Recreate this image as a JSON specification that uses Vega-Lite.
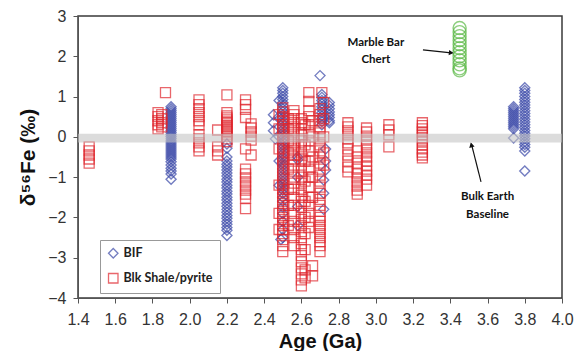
{
 "$schema": "https://vega.github.io/schema/vega-lite/v6.json",
 "width": 484, "height": 282,
 "autosize": {"type": "none"},
 "padding": {"left": 78, "top": 16, "right": 20, "bottom": 53},
 "background": "white",
 "config": {"view": {"stroke": "#3a3a3a", "strokeWidth": 1.5}, "font": "Liberation Sans", "axis": {"labelOverlap": false, "labelFlush": false}},
 "datasets": {
  "bif": [
   {"a":1.9,"v":0.75},{"a":1.9,"v":0.7},{"a":1.9,"v":0.65},{"a":1.9,"v":0.6},{"a":1.9,"v":0.55},{"a":1.9,"v":0.5},{"a":1.9,"v":0.45},{"a":1.9,"v":0.4},{"a":1.9,"v":0.35},{"a":1.9,"v":0.3},{"a":1.9,"v":0.25},{"a":1.9,"v":0.2},{"a":1.9,"v":0.15},{"a":1.9,"v":0.1},{"a":1.9,"v":0.05},{"a":1.9,"v":0},{"a":1.9,"v":-0.05},{"a":1.9,"v":-0.1},{"a":1.9,"v":-0.15},{"a":1.9,"v":-0.2},{"a":1.9,"v":-0.25},{"a":1.9,"v":-0.3},{"a":1.9,"v":-0.35},{"a":1.9,"v":-0.4},{"a":1.9,"v":-0.45},{"a":1.9,"v":-0.5},{"a":1.9,"v":-0.55},{"a":1.9,"v":-0.62},{"a":1.9,"v":-0.7},{"a":1.9,"v":-0.78},{"a":1.9,"v":-0.85},{"a":1.9,"v":-0.92},{"a":1.9,"v":-1.05},
   {"a":2.2,"v":-0.18},{"a":2.2,"v":-0.28},{"a":2.2,"v":-0.5},{"a":2.2,"v":-0.6},{"a":2.2,"v":-0.68},{"a":2.2,"v":-0.75},{"a":2.2,"v":-0.82},{"a":2.2,"v":-0.9},{"a":2.2,"v":-0.97},{"a":2.2,"v":-1.05},{"a":2.2,"v":-1.12},{"a":2.2,"v":-1.2},{"a":2.2,"v":-1.27},{"a":2.2,"v":-1.35},{"a":2.2,"v":-1.42},{"a":2.2,"v":-1.5},{"a":2.2,"v":-1.57},{"a":2.2,"v":-1.65},{"a":2.2,"v":-1.72},{"a":2.2,"v":-1.8},{"a":2.2,"v":-1.87},{"a":2.2,"v":-1.95},{"a":2.2,"v":-2.02},{"a":2.2,"v":-2.1},{"a":2.2,"v":-2.17},{"a":2.2,"v":-2.25},{"a":2.2,"v":-2.32},{"a":2.2,"v":-2.45},
   {"a":2.45,"v":0.55},{"a":2.45,"v":0.35},{"a":2.45,"v":0.15},{"a":2.46,"v":-0.05},
   {"a":2.48,"v":0.9},{"a":2.48,"v":0.5},{"a":2.48,"v":0.0},{"a":2.48,"v":-0.6},{"a":2.48,"v":-1.2},{"a":2.49,"v":-2.55},
   {"a":2.5,"v":1.22},{"a":2.5,"v":1.15},{"a":2.5,"v":1.08},{"a":2.5,"v":1.0},{"a":2.5,"v":0.93},{"a":2.5,"v":0.85},{"a":2.5,"v":0.78},{"a":2.5,"v":0.7},{"a":2.5,"v":0.63},{"a":2.5,"v":0.55},{"a":2.5,"v":0.48},{"a":2.5,"v":0.4},{"a":2.5,"v":0.33},{"a":2.5,"v":0.25},{"a":2.5,"v":0.18},{"a":2.5,"v":0.1},{"a":2.5,"v":0.03},{"a":2.5,"v":-0.05},{"a":2.5,"v":-0.12},{"a":2.5,"v":-0.2},{"a":2.5,"v":-0.27},{"a":2.5,"v":-0.35},{"a":2.5,"v":-0.42},{"a":2.5,"v":-0.5},{"a":2.5,"v":-0.57},{"a":2.5,"v":-0.65},{"a":2.5,"v":-0.72},{"a":2.5,"v":-0.8},{"a":2.5,"v":-0.87},{"a":2.5,"v":-0.95},{"a":2.5,"v":-1.02},{"a":2.5,"v":-1.1},{"a":2.5,"v":-1.17},{"a":2.5,"v":-1.25},{"a":2.5,"v":-1.32},{"a":2.5,"v":-1.4},{"a":2.5,"v":-1.5},{"a":2.5,"v":-1.6},{"a":2.5,"v":-1.75},{"a":2.5,"v":-1.9},{"a":2.5,"v":-2.1},{"a":2.5,"v":-2.3},{"a":2.5,"v":-2.5},
   {"a":2.58,"v":-0.5},{"a":2.58,"v":-0.57},{"a":2.58,"v":-1.0},{"a":2.58,"v":-1.73},{"a":2.58,"v":-2.2},
   {"a":2.7,"v":1.52},
   {"a":2.71,"v":1.05},{"a":2.71,"v":0.98},{"a":2.71,"v":0.9},{"a":2.71,"v":0.83},{"a":2.71,"v":0.75},{"a":2.71,"v":0.68},{"a":2.71,"v":0.6},{"a":2.71,"v":0.52},{"a":2.71,"v":0.45},{"a":2.71,"v":0.38},{"a":2.71,"v":0.3},
   {"a":2.75,"v":0.85},{"a":2.75,"v":0.78},{"a":2.75,"v":0.7},{"a":2.75,"v":0.62},{"a":2.75,"v":0.55},{"a":2.75,"v":0.48},{"a":2.75,"v":0.4},{"a":2.75,"v":0.35},
   {"a":2.73,"v":-0.3},{"a":2.73,"v":-0.6},{"a":2.73,"v":-0.82},{"a":2.72,"v":-1.07},{"a":2.72,"v":-1.4},{"a":2.72,"v":-1.8},
   {"a":3.74,"v":0.75},{"a":3.74,"v":0.7},{"a":3.74,"v":0.65},{"a":3.74,"v":0.6},{"a":3.74,"v":0.55},{"a":3.74,"v":0.5},{"a":3.74,"v":0.45},{"a":3.74,"v":0.4},{"a":3.74,"v":0.35},{"a":3.74,"v":0.3},{"a":3.74,"v":0.25},{"a":3.74,"v":0.2},{"a":3.74,"v":-0.03},
   {"a":3.8,"v":1.22},{"a":3.8,"v":1.15},{"a":3.8,"v":1.08},{"a":3.8,"v":1.0},{"a":3.8,"v":0.93},{"a":3.8,"v":0.86},{"a":3.8,"v":0.79},{"a":3.8,"v":0.72},{"a":3.8,"v":0.65},{"a":3.8,"v":0.58},{"a":3.8,"v":0.51},{"a":3.8,"v":0.44},{"a":3.8,"v":0.37},{"a":3.8,"v":0.3},{"a":3.8,"v":0.23},{"a":3.8,"v":0.16},{"a":3.8,"v":0.09},{"a":3.8,"v":0.02},{"a":3.8,"v":-0.05},{"a":3.8,"v":-0.12},{"a":3.8,"v":-0.19},{"a":3.8,"v":-0.26},{"a":3.8,"v":-0.35},{"a":3.8,"v":-0.85}
  ],
  "shale": [
   {"a":1.46,"v":-0.25},{"a":1.46,"v":-0.35},{"a":1.46,"v":-0.45},{"a":1.46,"v":-0.55},{"a":1.46,"v":-0.65},
   {"a":1.83,"v":0.6},{"a":1.83,"v":0.5},{"a":1.83,"v":0.4},{"a":1.83,"v":0.3},{"a":1.83,"v":0.2},
   {"a":1.85,"v":0.55},{"a":1.85,"v":0.45},{"a":1.85,"v":0.35},{"a":1.85,"v":0.25},{"a":1.87,"v":1.1},
   {"a":2.05,"v":0.92},{"a":2.05,"v":0.8},{"a":2.05,"v":0.7},{"a":2.05,"v":0.6},{"a":2.05,"v":0.5},{"a":2.05,"v":0.4},{"a":2.05,"v":0.3},{"a":2.05,"v":0.05},{"a":2.05,"v":-0.05},{"a":2.05,"v":-0.15},{"a":2.05,"v":-0.25},{"a":2.05,"v":-0.35},
   {"a":2.15,"v":0.17},{"a":2.15,"v":-0.25},{"a":2.15,"v":-0.35},{"a":2.15,"v":-0.45},
   {"a":2.2,"v":1.04},{"a":2.2,"v":0.6},{"a":2.2,"v":0.52},{"a":2.2,"v":0.47},{"a":2.2,"v":0.42},{"a":2.2,"v":0.37},{"a":2.2,"v":0.32},{"a":2.2,"v":0.27},{"a":2.2,"v":0.22},{"a":2.2,"v":0.17},{"a":2.2,"v":0.12},{"a":2.2,"v":0.07},{"a":2.2,"v":0.02},{"a":2.2,"v":-0.05},{"a":2.2,"v":-0.12},
   {"a":2.3,"v":0.92},{"a":2.3,"v":0.8},{"a":2.3,"v":0.68},{"a":2.3,"v":0.48},{"a":2.3,"v":-0.3},{"a":2.3,"v":-0.8},{"a":2.3,"v":-0.92},{"a":2.3,"v":-1.02},{"a":2.3,"v":-1.12},{"a":2.3,"v":-1.22},{"a":2.3,"v":-1.32},{"a":2.3,"v":-1.42},{"a":2.3,"v":-1.52},{"a":2.3,"v":-1.78},
   {"a":2.33,"v":0.32},{"a":2.33,"v":0.22},{"a":2.33,"v":0.12},{"a":2.33,"v":0.02},{"a":2.33,"v":-0.08},{"a":2.33,"v":-0.45},
   {"a":2.48,"v":0.55},{"a":2.48,"v":0.2},{"a":2.48,"v":-0.3},{"a":2.48,"v":-1.2},{"a":2.48,"v":-1.9},{"a":2.48,"v":-2.3},
   {"a":2.5,"v":0.72},{"a":2.5,"v":0.62},{"a":2.5,"v":0.5},{"a":2.5,"v":0.4},{"a":2.5,"v":0.3},{"a":2.5,"v":0.2},{"a":2.5,"v":0.1},{"a":2.5,"v":0},{"a":2.5,"v":-0.1},{"a":2.5,"v":-0.2},{"a":2.5,"v":-0.3},{"a":2.5,"v":-0.4},{"a":2.5,"v":-0.5},{"a":2.5,"v":-0.6},{"a":2.5,"v":-0.7},{"a":2.5,"v":-0.8},{"a":2.5,"v":-0.9},{"a":2.5,"v":-1.0},{"a":2.5,"v":-1.1},{"a":2.5,"v":-1.2},{"a":2.5,"v":-1.3},{"a":2.5,"v":-1.4},{"a":2.5,"v":-1.5},{"a":2.5,"v":-1.6},{"a":2.5,"v":-1.7},{"a":2.5,"v":-1.8},{"a":2.5,"v":-1.9},{"a":2.5,"v":-2.0},{"a":2.5,"v":-2.1},{"a":2.5,"v":-2.2},{"a":2.5,"v":-2.3},{"a":2.5,"v":-2.4},{"a":2.5,"v":-2.55},{"a":2.5,"v":-2.7},{"a":2.5,"v":-2.85},
   {"a":2.53,"v":0.45},{"a":2.53,"v":0.2},{"a":2.53,"v":-0.1},{"a":2.53,"v":-0.4},{"a":2.53,"v":-0.8},{"a":2.53,"v":-1.3},{"a":2.53,"v":-1.7},{"a":2.53,"v":-2.2},
   {"a":2.56,"v":0.65},{"a":2.56,"v":0.55},{"a":2.56,"v":0.45},{"a":2.56,"v":0.35},{"a":2.56,"v":0.25},{"a":2.56,"v":0.15},{"a":2.56,"v":0.05},{"a":2.56,"v":-0.05},{"a":2.56,"v":-0.15},{"a":2.56,"v":-0.25},{"a":2.56,"v":-0.35},{"a":2.56,"v":-0.45},{"a":2.56,"v":-0.55},{"a":2.56,"v":-0.7},{"a":2.56,"v":-0.85},{"a":2.56,"v":-1.0},{"a":2.56,"v":-1.15},{"a":2.56,"v":-1.3},{"a":2.56,"v":-1.5},{"a":2.56,"v":-1.7},{"a":2.56,"v":-1.9},{"a":2.56,"v":-2.1},{"a":2.56,"v":-2.3},{"a":2.56,"v":-2.5},{"a":2.56,"v":-2.7},
   {"a":2.6,"v":0.45},{"a":2.6,"v":0.35},{"a":2.6,"v":0.2},{"a":2.6,"v":0.05},{"a":2.6,"v":-0.1},{"a":2.6,"v":-0.25},{"a":2.6,"v":-0.4},{"a":2.6,"v":-0.55},{"a":2.6,"v":-0.7},{"a":2.6,"v":-0.85},{"a":2.6,"v":-1.0},{"a":2.6,"v":-1.15},{"a":2.6,"v":-1.3},{"a":2.6,"v":-1.45},{"a":2.6,"v":-1.6},{"a":2.6,"v":-1.75},{"a":2.6,"v":-1.9},{"a":2.6,"v":-2.05},{"a":2.6,"v":-2.2},{"a":2.6,"v":-2.35},{"a":2.6,"v":-2.5},{"a":2.6,"v":-2.65},{"a":2.6,"v":-2.8},{"a":2.6,"v":-2.95},{"a":2.6,"v":-3.1},{"a":2.6,"v":-3.25},{"a":2.6,"v":-3.4},{"a":2.6,"v":-3.55},{"a":2.6,"v":-3.7},
   {"a":2.62,"v":0.3},{"a":2.62,"v":-0.2},{"a":2.62,"v":-0.6},{"a":2.62,"v":-1.1},{"a":2.62,"v":-1.6},{"a":2.62,"v":-2.0},{"a":2.62,"v":-2.4},{"a":2.62,"v":-2.8},{"a":2.62,"v":-3.3},{"a":2.62,"v":-3.5},
   {"a":2.64,"v":1.1},{"a":2.64,"v":0.88},{"a":2.64,"v":0.65},{"a":2.64,"v":0.5},{"a":2.64,"v":0.3},{"a":2.64,"v":0.1},{"a":2.64,"v":-0.1},{"a":2.64,"v":-0.35},{"a":2.64,"v":-0.6},{"a":2.64,"v":-0.8},{"a":2.64,"v":-1.0},{"a":2.64,"v":-1.25},{"a":2.64,"v":-1.5},{"a":2.64,"v":-1.7},{"a":2.64,"v":-1.9},{"a":2.64,"v":-2.1},{"a":2.64,"v":-2.25},
   {"a":2.66,"v":0.4},{"a":2.66,"v":0.0},{"a":2.66,"v":-0.5},{"a":2.66,"v":-1.0},{"a":2.66,"v":-1.5},{"a":2.66,"v":-3.2},{"a":2.66,"v":-3.45},
   {"a":2.71,"v":1.1},
   {"a":2.7,"v":0.7},{"a":2.7,"v":0.55},{"a":2.7,"v":0.4},{"a":2.7,"v":0.25},{"a":2.7,"v":0.1},{"a":2.7,"v":-0.05},{"a":2.7,"v":-0.2},{"a":2.7,"v":-0.35},{"a":2.7,"v":-0.5},{"a":2.7,"v":-0.65},{"a":2.7,"v":-0.8},{"a":2.7,"v":-0.95},{"a":2.7,"v":-1.1},{"a":2.7,"v":-1.25},{"a":2.7,"v":-1.4},{"a":2.7,"v":-1.55},{"a":2.7,"v":-1.7},{"a":2.7,"v":-1.85},{"a":2.7,"v":-2.0},{"a":2.7,"v":-2.1},{"a":2.7,"v":-2.2},{"a":2.7,"v":-2.3},{"a":2.7,"v":-2.4},{"a":2.7,"v":-2.5},{"a":2.7,"v":-2.6},{"a":2.7,"v":-2.7},{"a":2.7,"v":-2.85},
   {"a":2.72,"v":0.85},{"a":2.72,"v":0.45},{"a":2.72,"v":0.0},{"a":2.72,"v":-0.4},{"a":2.72,"v":-0.7},
   {"a":2.85,"v":0.35},{"a":2.85,"v":0.25},{"a":2.85,"v":0.15},{"a":2.85,"v":0.05},{"a":2.85,"v":-0.05},{"a":2.85,"v":-0.15},{"a":2.85,"v":-0.3},{"a":2.85,"v":-0.45},{"a":2.85,"v":-0.6},{"a":2.85,"v":-0.75},{"a":2.85,"v":-0.87},
   {"a":2.9,"v":-0.35},{"a":2.9,"v":-0.5},{"a":2.9,"v":-0.65},{"a":2.9,"v":-0.8},{"a":2.9,"v":-0.92},{"a":2.9,"v":-1.02},{"a":2.9,"v":-1.12},{"a":2.9,"v":-1.22},{"a":2.9,"v":-1.32},{"a":2.9,"v":-1.42},
   {"a":2.95,"v":0.22},{"a":2.95,"v":0.12},{"a":2.95,"v":0.02},{"a":2.95,"v":-0.08},{"a":2.95,"v":-0.2},{"a":2.95,"v":-0.3},{"a":2.95,"v":-0.4},{"a":2.95,"v":-0.5},{"a":2.95,"v":-0.6},{"a":2.95,"v":-0.72},{"a":2.95,"v":-0.85},{"a":2.95,"v":-0.95},{"a":2.95,"v":-1.05},{"a":2.95,"v":-1.2},
   {"a":3.07,"v":0.3},{"a":3.07,"v":0.17},{"a":3.07,"v":0.05},{"a":3.07,"v":-0.25},
   {"a":3.25,"v":0.35},{"a":3.25,"v":0.28},{"a":3.25,"v":0.2},{"a":3.25,"v":0.12},{"a":3.25,"v":0.05},{"a":3.25,"v":-0.02},{"a":3.25,"v":-0.1},{"a":3.25,"v":-0.2},{"a":3.25,"v":-0.3},{"a":3.25,"v":-0.38},{"a":3.25,"v":-0.45},{"a":3.25,"v":-0.52}
  ],
  "chert": [
   {"a":3.45,"v":2.7},{"a":3.45,"v":2.6},{"a":3.45,"v":2.5},{"a":3.45,"v":2.4},{"a":3.45,"v":2.3},{"a":3.45,"v":2.2},{"a":3.45,"v":2.1},{"a":3.45,"v":2.0},{"a":3.45,"v":1.9},{"a":3.45,"v":1.8},{"a":3.45,"v":1.7},{"a":3.45,"v":1.65}
  ],
  "band": [{"a": 1.4, "a2": 4.0, "v": -0.14, "v2": 0.08}],
  "labels": [
   {"a":3.0,"v":2.33,"t":"Marble Bar"},{"a":3.0,"v":1.91,"t":"Chert"},
   {"a":3.6,"v":-1.49,"t":"Bulk Earth"},{"a":3.6,"v":-1.94,"t":"Baseline"}
  ],
  "arrows": [
   {"a":3.253,"v":2.16,"a2":3.405,"v2":2.085},
   {"a":3.565,"v":-1.12,"a2":3.513,"v2":-0.17}
  ]
 },
 "encoding": {
  "x": {"field": "a", "type": "quantitative",
   "scale": {"domain": [1.4, 4.0], "nice": false, "zero": false},
   "axis": {"tickCount": 13, "format": ".1f", "grid": false, "labelOverlap": false, "labelBound": false,
    "title": "Age (Ga)", "titleFont": "Liberation Sans", "titleFontSize": 20, "titleFontWeight": "bold", "titleColor": "#111",
    "labelFontSize": 16, "labelColor": "#333", "labelFont": "Liberation Sans", "tickSize": 5, "tickColor": "#555", "domainColor": "#555",
    "labelPadding": 8, "titlePadding": 4}},
  "y": {"field": "v", "type": "quantitative",
   "scale": {"domain": [-4, 3], "nice": false, "zero": false},
   "axis": {"values": [-4,-3,-2,-1,0,1,2,3], "grid": false, "labelOverlap": false,
    "title": "δ⁵⁶Fe (‰)", "titleFont": "Liberation Sans", "titleFontSize": 21, "titleFontWeight": "bold", "titleColor": "#111",
    "labelFontSize": 16, "labelColor": "#333", "labelFont": "Liberation Sans", "tickSize": 5, "tickColor": "#555", "domainColor": "#555",
    "labelPadding": 7, "titlePadding": 9}}
 },
 "layer": [
  {
   "data": {"name": "bif"},
   "mark": {"type": "point", "filled": false, "strokeWidth": 1.4, "size": 100},
   "encoding": {
    "color": {"datum": "BIF", "type": "nominal",
     "scale": {"domain": ["BIF", "Blk Shale/pyrite"], "range": ["#3a48a8", "#e0262d"]},
     "legend": {"orient": "none", "legendX": 22, "legendY": 224, "title": null, "strokeColor": "#999", "fillColor": "white",
      "padding": 7, "labelFont": "Lato", "labelFontWeight": "bold", "labelFontSize": 12.5, "labelColor": "#222",
      "symbolSize": 90, "symbolStrokeWidth": 1.3, "rowPadding": 9, "labelOffset": 4}},
    "shape": {"datum": "BIF", "type": "nominal",
     "scale": {"domain": ["BIF", "Blk Shale/pyrite"], "range": ["diamond", "square"]}}
   }
  },
  {
   "data": {"name": "shale"},
   "mark": {"type": "point", "filled": false, "strokeWidth": 1.3, "size": 100},
   "encoding": {
    "color": {"datum": "Blk Shale/pyrite", "type": "nominal"},
    "shape": {"datum": "Blk Shale/pyrite", "type": "nominal"}
   }
  },
  {
   "data": {"name": "chert"},
   "mark": {"type": "point", "shape": "circle", "filled": false, "strokeWidth": 1.4, "size": 170, "color": "#5cba47"}
  },
  {
   "data": {"name": "band"},
   "mark": {"type": "rect", "fill": "#c4c4c4", "opacity": 0.6},
   "encoding": {
    "x2": {"field": "a2"},
    "y2": {"field": "v2"}
   }
  },
  {
   "data": {"name": "labels"},
   "mark": {"type": "text", "font": "Lato", "fontWeight": "bold", "fontSize": 11.5, "color": "#111", "align": "center", "baseline": "middle"},
   "encoding": {
    "text": {"field": "t"}
   }
  },
  {
   "data": {"name": "arrows"},
   "mark": {"type": "rule", "color": "#111", "strokeWidth": 1.2},
   "encoding": {
    "x2": {"field": "a2"},
    "y2": {"field": "v2"}
   }
  },
  {
   "data": {"values": [{"a": 3.405, "v": 2.085}]},
   "mark": {"type": "point", "shape": "triangle-right", "filled": true, "color": "#111", "size": 30, "angle": 6, "opacity": 1}
  },
  {
   "data": {"values": [{"a": 3.513, "v": -0.2}]},
   "mark": {"type": "point", "shape": "triangle-up", "filled": true, "color": "#111", "size": 30, "angle": -14, "opacity": 1}
  }
 ]
}
